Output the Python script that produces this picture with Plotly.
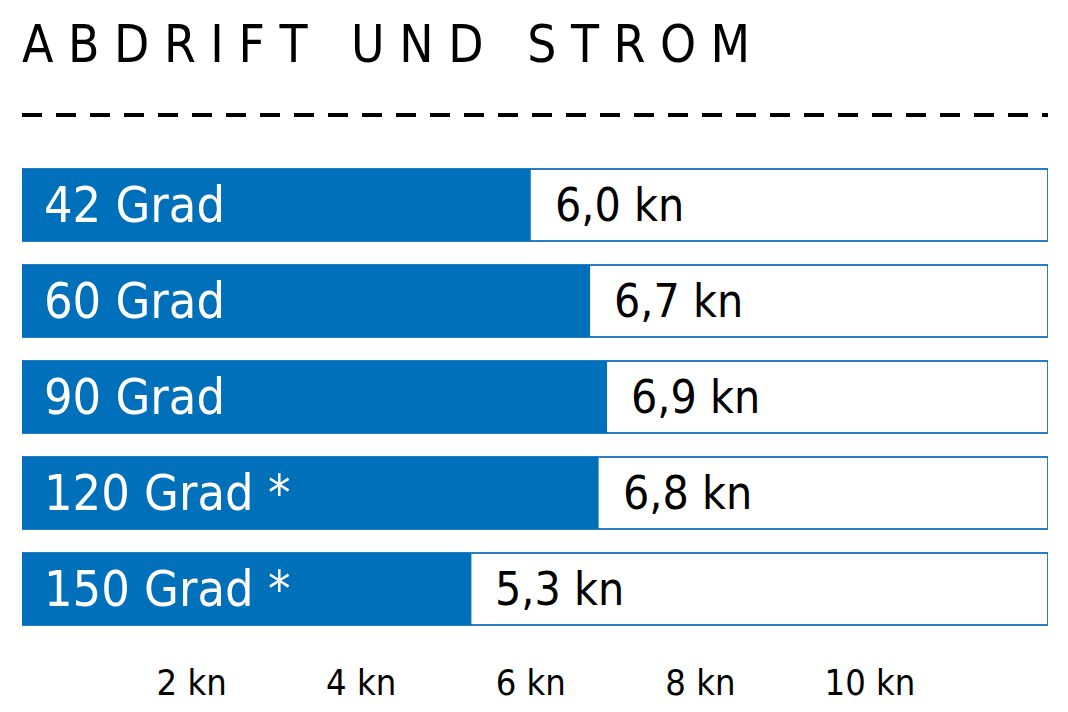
import plotly.graph_objects as go

# data
winkel = ["42 Grad", "60 Grad", "90 Grad", "120 Grad*", "150 Grad*"]
speed_kn = [6.0, 6.7, 6.9, 6.8, 5.3]
value_labels = ["6,0 kn", "6,7 kn", "6,9 kn", "6,8 kn", "5,3 kn"]
tick_vals = [2, 4, 6, 8, 10]
tick_text = ["2 kn", "4 kn", "6 kn", "8 kn", "10 kn"]

x_max = 12.1
blue = "#0070BA"
font = "DejaVu Sans Condensed, Liberation Sans Narrow, Noto Sans, sans-serif"

fig = go.Figure()

# outline boxes over the full scale
fig.add_trace(go.Bar(
    y=winkel, x=[x_max] * len(winkel), orientation="h",
    marker=dict(color="white", line=dict(color="#2a7dc2", width=2)),
    width=0.75, hoverinfo="skip", showlegend=False,
))

# filled part
fig.add_trace(go.Bar(
    y=winkel, x=speed_kn, orientation="h",
    marker=dict(color=blue, line=dict(width=0)),
    width=0.75, showlegend=False,
))

for name, v, lab in zip(winkel, speed_kn, value_labels):
    fig.add_annotation(x=0, y=name, text=name.replace("*", " *"), showarrow=False,
                       xanchor="left", xshift=20,
                       font=dict(family=font, size=50, color="white"))
    fig.add_annotation(x=v, y=name, text=lab, showarrow=False,
                       xanchor="left", xshift=22,
                       font=dict(family=font, size=46, color="black"))

# dashed rule under the title
fig.add_shape(type="line", xref="paper", yref="paper",
              x0=0, x1=1, y0=1.0875, y1=1.0875,
              line=dict(color="black", width=4, dash="20px,14px"))

fig.update_layout(
    width=1068, height=712,
    margin=dict(l=14, r=28, t=149, b=83),
    paper_bgcolor="white", plot_bgcolor="white",
    barmode="overlay",
    title=dict(text="A B D R I F T   U N D   S T R O M", x=14 / 1068, xanchor="left",
               y=1 - 36 / 712, yanchor="middle",
               font=dict(family=font, size=51, color="black")),
    xaxis=dict(range=[0, x_max], showgrid=False, zeroline=False, showline=False,
               tickvals=tick_vals, ticktext=tick_text, ticklabelstandoff=21,
               tickfont=dict(family=font, size=36, color="black")),
    yaxis=dict(autorange="reversed", showticklabels=False, showgrid=False,
               zeroline=False, showline=False),
)

fig.write_html("out.html")
